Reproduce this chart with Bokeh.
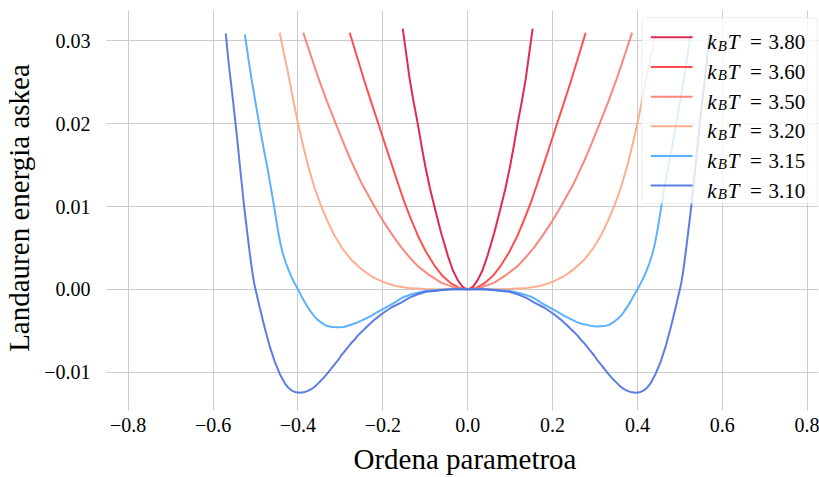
from bokeh.plotting import figure
from bokeh.models import Range1d, FixedTicker, BoxAnnotation, Label
from bokeh.embed import file_html
from bokeh.resources import INLINE

# ---------------- data ----------------
temps = ["3.80", "3.60", "3.50", "3.20", "3.15", "3.10"]
colors = ["#dc143c", "#ff3b3b", "#f77b6e", "#ffa483", "#4aa8ff", "#4a6fe0"]

m_380 = [-0.153, -0.145, -0.137, -0.128, -0.118, -0.109, -0.100, -0.089, -0.078, -0.063, -0.047, -0.035, -0.0235, -0.012, -0.006, 0.0,
         0.006, 0.012, 0.0235, 0.035, 0.047, 0.063, 0.078, 0.089, 0.100, 0.109, 0.118, 0.128, 0.137, 0.145, 0.153]
f_380 = [0.0315, 0.0285, 0.0255, 0.0228, 0.0201, 0.0174, 0.0149, 0.0122, 0.0099, 0.0069, 0.0041, 0.0023, 0.0011, 0.0003, 0.0001, 0.0,
         0.0001, 0.0003, 0.0011, 0.0023, 0.0041, 0.0069, 0.0099, 0.0122, 0.0149, 0.0174, 0.0201, 0.0228, 0.0255, 0.0285, 0.0315]

m_360 = [-0.278, -0.262, -0.243, -0.226, -0.208, -0.192, -0.1765, -0.163, -0.149, -0.133, -0.1176, -0.098, -0.0786, -0.059, -0.039, -0.020, -0.010, 0.0,
         0.010, 0.020, 0.039, 0.059, 0.0786, 0.098, 0.1176, 0.133, 0.149, 0.163, 0.1765, 0.192, 0.208, 0.226, 0.243, 0.262, 0.278]
f_360 = [0.0310, 0.0283, 0.0251, 0.0224, 0.0196, 0.0171, 0.0147, 0.0126, 0.0105, 0.0084, 0.0065, 0.0045, 0.0029, 0.0016, 0.0007, 0.00017, 0.00004, 0.0,
         0.00004, 0.00017, 0.0007, 0.0016, 0.0029, 0.0045, 0.0065, 0.0084, 0.0105, 0.0126, 0.0147, 0.0171, 0.0196, 0.0224, 0.0251, 0.0283, 0.0310]

m_350 = [-0.3875, -0.370, -0.353, -0.331, -0.310, -0.292, -0.2746, -0.250, -0.2197, -0.200, -0.178, -0.157, -0.1376, -0.1176, -0.090, -0.0628, -0.031, 0.0,
         0.031, 0.0628, 0.090, 0.1176, 0.1376, 0.157, 0.178, 0.200, 0.2197, 0.250, 0.2746, 0.292, 0.310, 0.331, 0.353, 0.370, 0.3875]
f_350 = [0.0310, 0.0283, 0.0257, 0.0226, 0.0199, 0.0176, 0.0155, 0.0128, 0.0100, 0.0083, 0.0066, 0.0051, 0.0039, 0.0028, 0.0017, 0.0008, 0.0002, 0.0,
         0.0002, 0.0008, 0.0017, 0.0028, 0.0039, 0.0051, 0.0066, 0.0083, 0.0100, 0.0128, 0.0155, 0.0176, 0.0199, 0.0226, 0.0257, 0.0283, 0.0310]

m_320 = [-0.443, -0.433, -0.4235, -0.412, -0.400, -0.388, -0.3765, -0.361, -0.345, -0.330, -0.314, -0.295, -0.275, -0.252, -0.228, -0.200, -0.170, -0.140, -0.100, -0.050, 0.0,
         0.050, 0.100, 0.140, 0.170, 0.200, 0.228, 0.252, 0.275, 0.295, 0.314, 0.330, 0.345, 0.361, 0.3765, 0.388, 0.400, 0.412, 0.4235, 0.433, 0.443]
f_320 = [0.0310, 0.0285, 0.0262, 0.0231, 0.0201, 0.0174, 0.0150, 0.0123, 0.0100, 0.0082, 0.0065, 0.0049, 0.0036, 0.0025, 0.0016, 0.0009, 0.0004, 0.00015, 0.00004, 0.0, 0.0,
         0.0, 0.00004, 0.00015, 0.0004, 0.0009, 0.0016, 0.0025, 0.0036, 0.0049, 0.0065, 0.0082, 0.0100, 0.0123, 0.0150, 0.0174, 0.0201, 0.0231, 0.0262, 0.0285, 0.0310]

m_315 = [-0.525, -0.518, -0.510, -0.500, -0.490, -0.480, -0.4706, -0.4635, -0.4565, -0.4515, -0.447, -0.4415, -0.4355, -0.4285, -0.421, -0.4135, -0.4065,
         -0.400, -0.392, -0.3845, -0.3765, -0.3685, -0.361, -0.353, -0.343, -0.3335, -0.320, -0.306, -0.292, -0.282, -0.270, -0.2588, -0.243, -0.2275,
         -0.214, -0.200, -0.186, -0.1725, -0.160, -0.149, -0.138, -0.125, -0.100, -0.070, -0.035, 0.0,
         0.035, 0.070, 0.100, 0.125, 0.138, 0.149, 0.160, 0.1725, 0.186, 0.200, 0.214, 0.2275, 0.243, 0.2588, 0.270, 0.282, 0.292, 0.306, 0.320,
         0.3335, 0.343, 0.353, 0.361, 0.3685, 0.3765, 0.3845, 0.392, 0.400, 0.4065, 0.4135, 0.421, 0.4285, 0.4355, 0.4415, 0.447, 0.4515, 0.4565,
         0.4635, 0.4706, 0.480, 0.490, 0.500, 0.510, 0.518, 0.525]
f_315 = [0.0308, 0.0283, 0.0256, 0.0226, 0.0196, 0.0168, 0.0143, 0.0122, 0.0101, 0.0085, 0.0071, 0.0056, 0.0043, 0.0032, 0.0022, 0.0013, 0.0006,
         0.0000, -0.0008, -0.0015, -0.0022, -0.0028, -0.0033, -0.0037, -0.0041, -0.0044, -0.00455, -0.0046, -0.00455, -0.0044, -0.0042, -0.0040, -0.0036, -0.0032,
         -0.0028, -0.0024, -0.0020, -0.0016, -0.0012, -0.0009, -0.0007, -0.0005, -0.0002, -0.0001, 0.0, 0.0,
         0.0, -0.0001, -0.0002, -0.0005, -0.0007, -0.0009, -0.0012, -0.0016, -0.0020, -0.0024, -0.0028, -0.0032, -0.0036, -0.0040, -0.0042, -0.0043, -0.00445, -0.0045, -0.00445,
         -0.0043, -0.0040, -0.0036, -0.0032, -0.0027, -0.0021, -0.0014, -0.0007, 0.0000, 0.0006, 0.0013, 0.0022, 0.0032, 0.0043, 0.0056, 0.0071, 0.0085, 0.0101,
         0.0122, 0.0143, 0.0168, 0.0196, 0.0226, 0.0256, 0.0283, 0.0308]

m_310 = [-0.570, -0.564, -0.557, -0.552, -0.547, -0.542, -0.5374, -0.532, -0.527, -0.520, -0.5138, -0.510, -0.506, -0.503, -0.500, -0.4955, -0.490, -0.4786,
         -0.467, -0.455, -0.443, -0.4315, -0.4225, -0.414, -0.405, -0.396, -0.387, -0.378, -0.3695, -0.361, -0.353, -0.345, -0.337, -0.3294, -0.322, -0.314,
         -0.306, -0.2981, -0.290, -0.282, -0.2745, -0.2668, -0.259, -0.251, -0.243, -0.2353, -0.218, -0.200, -0.180, -0.157, -0.137, -0.1176, -0.098, -0.0786,
         -0.060, -0.040, 0.0,
         0.040, 0.060, 0.0786, 0.098, 0.1176, 0.137, 0.157, 0.180, 0.200, 0.218, 0.2353, 0.243, 0.251, 0.259, 0.2668, 0.2745, 0.282, 0.290, 0.2981, 0.306,
         0.314, 0.322, 0.3294, 0.337, 0.345, 0.353, 0.361, 0.3695, 0.378, 0.387, 0.396, 0.405, 0.414, 0.4225, 0.4315, 0.443, 0.455, 0.467, 0.4786, 0.490,
         0.4955, 0.500, 0.503, 0.506, 0.510, 0.5138, 0.520, 0.527, 0.532, 0.5374, 0.542, 0.547, 0.552, 0.557, 0.564, 0.570]
f_310 = [0.0309, 0.0277, 0.0246, 0.0223, 0.0200, 0.0176, 0.0152, 0.0126, 0.0101, 0.0071, 0.0045, 0.0030, 0.0016, 0.0007, 0.0000, -0.0010, -0.0022, -0.0046,
         -0.0068, -0.0087, -0.0102, -0.0113, -0.0119, -0.01225, -0.01245, -0.0125, -0.01245, -0.0123, -0.0121, -0.0118, -0.0114, -0.0110, -0.01055, -0.0101, -0.0096, -0.0091,
         -0.0086, -0.0080, -0.0075, -0.0070, -0.0065, -0.0061, -0.0056, -0.0052, -0.0048, -0.0044, -0.0036, -0.0029, -0.0022, -0.0016, -0.0010, -0.0006, -0.0003, -0.0002,
         -0.0001, 0.0, 0.0,
         0.0, -0.0001, -0.0002, -0.0003, -0.0006, -0.0010, -0.0016, -0.0022, -0.0029, -0.0036, -0.0044, -0.0048, -0.0052, -0.0056, -0.0061, -0.0065, -0.0070, -0.0075, -0.0080, -0.0086,
         -0.0091, -0.0096, -0.0101, -0.01055, -0.0110, -0.0114, -0.0118, -0.0121, -0.0123, -0.01245, -0.0125, -0.01245, -0.01225, -0.0119, -0.0113, -0.0102, -0.0087, -0.0068, -0.0046, -0.0022,
         -0.0010, 0.0000, 0.0007, 0.0016, 0.0030, 0.0045, 0.0071, 0.0101, 0.0126, 0.0152, 0.0176, 0.0200, 0.0223, 0.0246, 0.0277, 0.0309]

series_m = [m_380, m_360, m_350, m_320, m_315, m_310]
series_f = [f_380, f_360, f_350, f_320, f_315, f_310]

x_ticks = [-0.8, -0.6, -0.4, -0.2, 0.0, 0.2, 0.4, 0.6, 0.8]
x_tick_labels = ["\u22120.8", "\u22120.6", "\u22120.4", "\u22120.2", "0.0", "0.2", "0.4", "0.6", "0.8"]
y_ticks = [-0.01, 0.0, 0.01, 0.02, 0.03]
y_tick_labels = ["\u22120.01", "0.00", "0.01", "0.02", "0.03"]

x_label = "Ordena parametroa"
y_label = "Landauren energia askea"

# ---------------- layout ----------------
W, H = 819, 477
X0, X1 = -0.8393, 0.8266
Y0, Y1 = -0.01404, 0.03368
FL, FR, FT, FB = 110, 818, 10, 407   # frame edges in pixels
FONT = "Liberation Serif"
GRID = "#cccccc"

p = figure(width=W, height=H, output_backend="svg", toolbar_location=None,
           x_range=Range1d(X0, X1), y_range=Range1d(Y0, Y1),
           min_border_left=FL, min_border_right=W - FR, min_border_top=FT,
           min_border_bottom=H - FB)
p.outline_line_color = None
p.background_fill_color = "white"

for ax in (p.xaxis[0], p.yaxis[0]):
    ax.axis_line_color = None
    ax.major_tick_line_color = GRID
    ax.major_tick_out = 5
    ax.major_tick_in = 0
    ax.minor_tick_line_color = None
    ax.major_label_text_font = FONT
    ax.major_label_text_font_size = "20px"
    ax.major_label_text_color = "black"
    ax.axis_label_text_font = FONT
    ax.axis_label_text_font_size = "29px"
    ax.axis_label_text_font_style = "normal"
    ax.axis_label_text_color = "black"

p.xaxis.ticker = FixedTicker(ticks=x_ticks)
p.yaxis.ticker = FixedTicker(ticks=y_ticks)
p.xaxis.major_label_overrides = dict(zip(x_ticks, x_tick_labels))
p.yaxis.major_label_overrides = dict(zip(y_ticks, y_tick_labels))
p.xaxis.axis_label = x_label
p.yaxis.axis_label = y_label
p.xaxis.major_label_standoff = 7
p.xaxis.axis_label_standoff = 8
p.yaxis.major_label_standoff = 16
p.yaxis.axis_label_standoff = 6

p.grid.grid_line_color = GRID
p.grid.grid_line_width = 1
p.xgrid.ticker = FixedTicker(ticks=x_ticks)
p.ygrid.ticker = FixedTicker(ticks=y_ticks)

for m, f, c in zip(series_m, series_f, colors):
    p.line(m, f, line_color=c, line_width=2, line_alpha=0.9, line_join="round")

# ---------------- legend (drawn by hand to keep k_B T formatting) ----------------
def dx(px):
    return X0 + (px - FL) / (FR - FL) * (X1 - X0)

def dy(py):
    return Y1 - (py - FT) / (FB - FT) * (Y1 - Y0)

box = BoxAnnotation(left=dx(641), right=dx(817), top=dy(17), bottom=dy(204),
                    fill_color="white", fill_alpha=0.8, line_color="#d4d4d4", line_width=1.5,
                    border_radius=5, level="annotation")
p.add_layout(box)

row0, row_step = 37.0, 29.8
for i, (t, c) in enumerate(zip(temps, colors)):
    yc = row0 + i * row_step
    p.segment(x0=[dx(650)], x1=[dx(692)], y0=[dy(yc)], y1=[dy(yc)],
              line_color=c, line_width=2, line_alpha=0.9, level="overlay")
    base = yc + 5
    parts = [("k", 706.5, base, "italic", "21px"),
             ("B", 717.0, base + 3.5, "italic", "15px"),
             ("T", 727.0, base, "italic", "21px"),
             ("=", 749.5, base, "normal", "21px"),
             (t, 768.0, base, "normal", "21px")]
    for txt, px, py, style, size in parts:
        p.add_layout(Label(x=dx(px), y=dy(py), text=txt, text_font=FONT,
                           text_font_style=style, text_font_size=size,
                           text_color="black", text_baseline="alphabetic",
                           text_align="left", level="overlay"))

open("out.html", "w").write(file_html(p, INLINE))
